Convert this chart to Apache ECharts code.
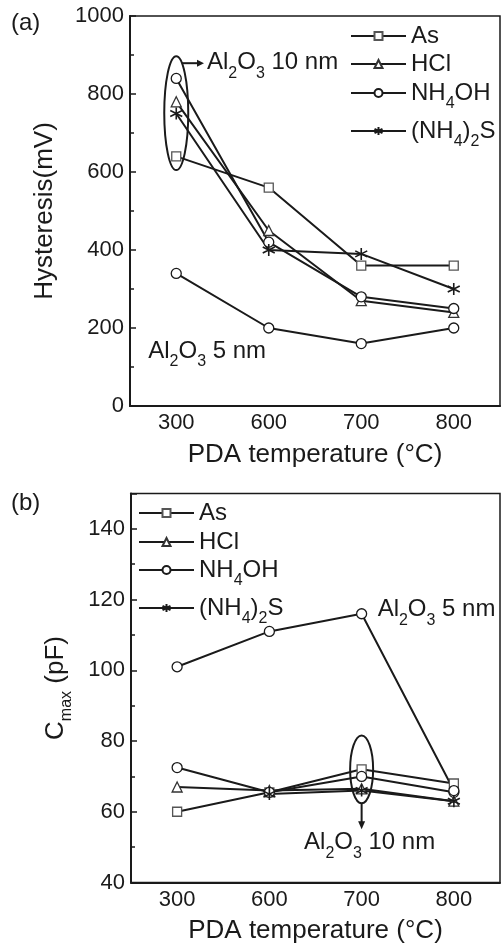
<!DOCTYPE html>
<html>
<head>
<meta charset="utf-8">
<script src="https://cdn.jsdelivr.net/npm/echarts@6/dist/echarts.min.js"></script>
<style>
  html, body { margin: 0; padding: 0; background: #fff; }
  #chart { width: 501px; height: 949px; }
</style>
</head>
<body>
<div id="chart"></div>
<script>
// PDA temperatures (°C), evenly spaced categories
const temperatures = ['300', '600', '700', '800'];

// (a) Hysteresis (mV), Al2O3 10 nm
const hysAs     = [640, 560, 360, 360];
const hysHCl    = [780, 450, 270, 240];
const hysNH4OH  = [840, 420, 280, 250];
const hysNH42S  = [750, 400, 390, 300];
// (a) Hysteresis (mV), Al2O3 5 nm, NH4OH
const hysNH4OH5 = [340, 200, 160, 200];

// (b) Cmax (pF), Al2O3 10 nm
const capAs     = [60, 65.5, 72, 68];
const capHCl    = [67, 66, 66.5, 63];
const capNH4OH  = [72.5, 65.5, 70, 65.5];
const capNH42S  = [null, 65, 66, 63];
// (b) Cmax (pF), Al2O3 5 nm, NH4OH
const capNH4OH5 = [101, 111, 116, 66];

// axis ranges / ticks
const hysRange = { min: 0, max: 1000, major: 200, minor: 100 };
const capRange = { min: 40, max: 150, major: 20, minor: 10 };

const FONT = '"Liberation Sans", Arial, Helvetica, sans-serif';
const INK = '#1a1a1a';

const subStyle = { fontSize: 16, lineHeight: 16, padding: [22, 0, 0, 0], fontFamily: FONT, color: INK };
const subStyleZr = { fontSize: 16, lineHeight: 16, padding: [22, 0, 0, 0], fontFamily: FONT, fill: INK };

const legendLabel = {
  'As': 'As',
  'HCl': 'HCl',
  'NH4OH': 'NH{s|4}OH',
  '(NH4)2S': '(NH{s|4}){s|2}S'
};

const starPath = 'path://M5,0L5,10M0.67,2.5L9.33,7.5M0.67,7.5L9.33,2.5';
const markers = {
  'As':      { symbol: 'rect',     size: 9,  border: '#555', width: 1.3 },
  'HCl':     { symbol: 'triangle', size: 10, border: '#333', width: 1.3 },
  'NH4OH':   { symbol: 'circle',   size: 10, border: INK,    width: 1.3 },
  '(NH4)2S': { symbol: starPath,   size: 12, border: INK,    width: 1.6 }
};

function lineSeries(name, marker, data, gi, id) {
  const mk = markers[marker];
  return {
    type: 'line', id: id, name: name, data: data,
    xAxisIndex: gi * 2, yAxisIndex: gi * 2,
    symbol: mk.symbol, symbolSize: mk.size, showAllSymbol: true,
    connectNulls: false,
    lineStyle: { color: INK, width: 2 },
    itemStyle: { color: '#fff', borderColor: mk.border, borderWidth: mk.width },
    emphasis: { disabled: true },
    animation: false
  };
}

function legendItem(name, left, cy) {
  return {
    data: [name], left: left, top: cy - 19, padding: 0,
    itemWidth: 55, itemHeight: 10, selectedMode: false,
    formatter: n => legendLabel[n],
    textStyle: { fontFamily: FONT, fontSize: 24, color: INK, lineHeight: 38, rich: { s: subStyle } }
  };
}

function catAxes(gi, nameGap) {
  return [
    {
      gridIndex: gi, type: 'category', data: temperatures, boundaryGap: true, position: 'bottom',
      axisLine: { onZero: false, lineStyle: { color: INK, width: 2 } },
      axisTick: { alignWithLabel: true, inside: true, length: 6, lineStyle: { color: INK, width: 1.5 } },
      axisLabel: { fontFamily: FONT, fontSize: 22, color: INK, margin: 6 },
      splitLine: { show: false },
      name: 'PDA temperature (°C)', nameLocation: 'middle', nameGap: nameGap,
      nameTextStyle: { fontFamily: FONT, fontSize: 26, color: INK, verticalAlign: 'middle' }
    },
    {
      gridIndex: gi, type: 'category', data: temperatures, boundaryGap: true, position: 'bottom',
      axisLine: { show: false, onZero: false },
      axisTick: { alignWithLabel: false, inside: true, length: 3, lineStyle: { color: INK, width: 1.5 } },
      axisLabel: { show: false }, splitLine: { show: false }
    }
  ];
}

function valAxes(gi, range, name) {
  return [
    {
      gridIndex: gi, type: 'value', position: 'left',
      min: range.min, max: range.max, interval: range.major,
      axisLine: { show: true, lineStyle: { color: INK, width: 2 } },
      axisTick: { show: true, inside: true, length: 6, lineStyle: { color: INK, width: 1.5 } },
      axisLabel: {
        fontFamily: FONT, fontSize: 22, color: INK, margin: 6,
        formatter: v => ((v - range.min) % range.major === 0 ? String(v) : '')
      },
      splitLine: { show: false },
      name: name, nameLocation: 'middle', nameGap: 75,
      nameTextStyle: { fontFamily: FONT, fontSize: 26, color: INK, verticalAlign: 'middle', lineHeight: 38, rich: { s: subStyle } }
    },
    {
      gridIndex: gi, type: 'value', position: 'left',
      min: range.min, max: range.max, interval: range.minor,
      axisLine: { show: false },
      axisTick: { show: true, inside: true, length: 4, lineStyle: { color: INK, width: 1.5 } },
      axisLabel: { show: false }, splitLine: { show: false }
    }
  ];
}

const chart = echarts.init(document.getElementById('chart'), null, { renderer: 'canvas' });

chart.setOption({
  backgroundColor: '#fff',
  animation: false,
  textStyle: { fontFamily: FONT },
  title: [
    { text: '(a)', left: 11, top: 11, padding: 0, textStyle: { fontFamily: FONT, fontSize: 24, fontWeight: 'normal', color: INK, lineHeight: 24 } },
    { text: '(b)', left: 11, top: 491, padding: 0, textStyle: { fontFamily: FONT, fontSize: 24, fontWeight: 'normal', color: INK, lineHeight: 24 } }
  ],
  grid: [
    { left: 130, top: 16, width: 370, height: 390, show: true, borderColor: INK, borderWidth: 1.5, containLabel: false },
    { left: 131, top: 493.5, width: 369, height: 389, show: true, borderColor: INK, borderWidth: 1.5, containLabel: false }
  ],
  legend: [
    legendItem('As', 350, 36), legendItem('HCl', 350, 64),
    legendItem('NH4OH', 350, 93), legendItem('(NH4)2S', 350, 131),
    legendItem('As', 138, 513), legendItem('HCl', 138, 542),
    legendItem('NH4OH', 138, 570), legendItem('(NH4)2S', 138, 608)
  ],
  xAxis: [].concat(catAxes(0, 49), catAxes(1, 48)),
  yAxis: [].concat(valAxes(0, hysRange, 'Hysteresis(mV)'), valAxes(1, capRange, 'C{s|max} (pF)')),
  series: [
    lineSeries('As', 'As', hysAs, 0, 'hAs'),
    lineSeries('HCl', 'HCl', hysHCl, 0, 'hHCl'),
    lineSeries('NH4OH', 'NH4OH', hysNH4OH, 0, 'hNH4OH'),
    lineSeries('(NH4)2S', '(NH4)2S', hysNH42S, 0, 'hNH42S'),
    lineSeries('NH4OH, 5 nm', 'NH4OH', hysNH4OH5, 0, 'hNH4OH5'),
    lineSeries('As', 'As', capAs, 1, 'cAs'),
    lineSeries('HCl', 'HCl', capHCl, 1, 'cHCl'),
    lineSeries('NH4OH', 'NH4OH', capNH4OH, 1, 'cNH4OH'),
    lineSeries('(NH4)2S', '(NH4)2S', capNH42S, 1, 'cNH42S'),
    lineSeries('NH4OH, 5 nm', 'NH4OH', capNH4OH5, 1, 'cNH4OH5')
  ]
});

// Annotations: rings around the 10 nm groups, arrows and thickness labels,
// anchored in data space of each panel.
function px(gi, x, y) {
  return chart.convertToPixel({ xAxisIndex: gi * 2, yAxisIndex: gi * 2 }, [x, y]);
}
function label(text, x, y, align) {
  return {
    type: 'text', z: 100, silent: true,
    style: {
      text: text, x: x, y: y, align: align || 'left', verticalAlign: 'middle',
      fontFamily: FONT, fontSize: 24, fill: INK, lineHeight: 38,
      rich: { s: subStyleZr }
    }
  };
}

const elems = [];

// panel (a): ring around the 300 °C points of the 10 nm films
{
  const top = px(0, 0, 897), bot = px(0, 0, 605);
  const cx = top[0], cy = (top[1] + bot[1]) / 2, ry = (bot[1] - top[1]) / 2, rx = 12;
  elems.push({ type: 'ellipse', z: 100, silent: true, shape: { cx: cx, cy: cy, rx: rx, ry: ry },
    style: { fill: 'none', stroke: INK, lineWidth: 2 } });
  const ay = px(0, 0, 879)[1];
  const dy = (ay - cy) / ry;
  const ax = cx + rx * Math.sqrt(Math.max(0, 1 - dy * dy));
  const tip = ax + 22;
  elems.push({ type: 'line', z: 100, silent: true, shape: { x1: ax, y1: ay, x2: tip - 5, y2: ay },
    style: { stroke: INK, lineWidth: 2 } });
  elems.push({ type: 'polygon', z: 100, silent: true, shape: { points: [[tip, ay], [tip - 7, ay - 3.5], [tip - 7, ay + 3.5]] },
    style: { fill: INK } });
  elems.push(label('Al{s|2}O{s|3} 10 nm', tip + 3, ay - 1));
  const p5 = px(0, 0, 141);
  elems.push(label('Al{s|2}O{s|3} 5 nm', p5[0] - 28, p5[1]));
}

// panel (b): ring around the 700 °C points of the 10 nm films
{
  const top = px(1, 2, 81.6), bot = px(1, 2, 62.4);
  const cx = top[0], cy = (top[1] + bot[1]) / 2, ry = (bot[1] - top[1]) / 2, rx = 11.5;
  elems.push({ type: 'ellipse', z: 100, silent: true, shape: { cx: cx, cy: cy, rx: rx, ry: ry },
    style: { fill: 'none', stroke: INK, lineWidth: 2 } });
  const y0 = bot[1], tip = y0 + 26;
  elems.push({ type: 'line', z: 100, silent: true, shape: { x1: cx, y1: y0, x2: cx, y2: tip - 5 },
    style: { stroke: INK, lineWidth: 2 } });
  elems.push({ type: 'polygon', z: 100, silent: true, shape: { points: [[cx, tip], [cx - 3.5, tip - 8], [cx + 3.5, tip - 8]] },
    style: { fill: INK } });
  elems.push(label('Al{s|2}O{s|3} 10 nm', cx + 8, tip + 13, 'center'));
  const p5 = px(1, 2, 117.3);
  elems.push(label('Al{s|2}O{s|3} 5 nm', p5[0] + 16, p5[1]));
}

chart.setOption({ graphic: { elements: elems } });
</script>
</body>
</html>
